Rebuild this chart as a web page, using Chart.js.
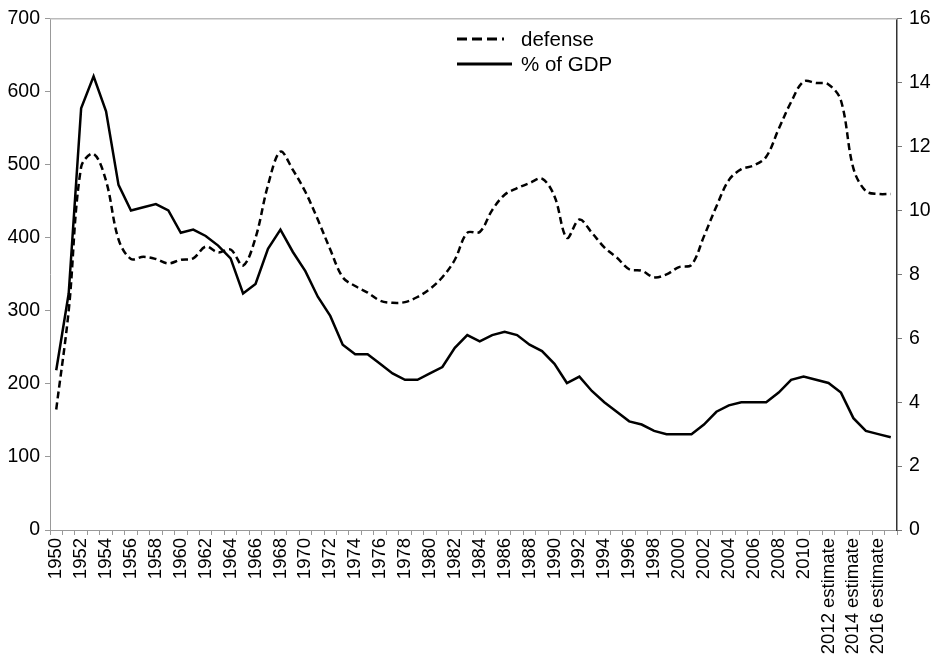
<!DOCTYPE html>
<html><head><meta charset="utf-8">
<script src="https://cdn.jsdelivr.net/npm/chart.js@4.4.1/dist/chart.umd.min.js"></script>
<style>html,body{margin:0;padding:0;background:#fff}#wrap{width:937px;height:660px;position:relative}</style>
</head><body><div id="wrap"><canvas id="c"></canvas></div>
<script>
const categories = ["1950","1951","1952","1953","1954","1955","1956","1957","1958","1959",
"1960","1961","1962","1963","1964","1965","1966","1967","1968","1969",
"1970","1971","1972","1973","1974","1975","1976","1977","1978","1979",
"1980","1981","1982","1983","1984","1985","1986","1987","1988","1989",
"1990","1991","1992","1993","1994","1995","1996","1997","1998","1999",
"2000","2001","2002","2003","2004","2005","2006","2007","2008","2009",
"2010","2011","2012 estimate","2013 estimate","2014 estimate","2015 estimate","2016 estimate","2017 estimate"];
const defense = [165,300,497,515,478,398,371,374,371,365,
370,372,388,380,384,362,400,472,518,493,
463,425,384,346,334,325,314,311,312,319,
330,346,370,407,408,438,459,468,475,481,
457,400,425,407,387,373,357,355,346,350,
360,363,402,443,479,494,499,511,549,586,
614,612,610,588,495,464,460,460];
const gdpShare = [5.0,7.4,13.2,14.2,13.1,10.8,10.0,10.1,10.2,10.0,
9.3,9.4,9.2,8.9,8.5,7.4,7.7,8.8,9.4,8.7,
8.1,7.3,6.7,5.8,5.5,5.5,5.2,4.9,4.7,4.7,
4.9,5.1,5.7,6.1,5.9,6.1,6.2,6.1,5.8,5.6,
5.2,4.6,4.8,4.35,4.0,3.7,3.4,3.3,3.1,3.0,
3.0,3.0,3.3,3.7,3.9,4.0,4.0,4.0,4.3,4.7,
4.8,4.7,4.6,4.3,3.5,3.1,3.0,2.9];
const seriesNames = ["defense","% of GDP"];

const FONT = "'Liberation Sans', Arial, Helvetica, sans-serif";

const topBorder = {
  id: 'topBorder',
  afterDraw(chart) {
    const {ctx, chartArea} = chart;
    ctx.save();
    ctx.strokeStyle = '#bbb';
    ctx.lineWidth = 1.5;
    ctx.beginPath();
    ctx.moveTo(chartArea.left, chartArea.top);
    ctx.lineTo(chartArea.right, chartArea.top);
    ctx.stroke();
    ctx.restore();
  }
};

const lineLegend = {
  id: 'lineLegend',
  afterDraw(chart, args, opts) {
    const {ctx} = chart;
    ctx.save();
    ctx.font = opts.fontSize + 'px ' + FONT;
    ctx.textBaseline = 'middle';
    ctx.fillStyle = '#000';
    chart.data.datasets.forEach((ds, i) => {
      const y = opts.y + i * opts.rowGap;
      ctx.strokeStyle = '#000';
      ctx.lineWidth = 3;
      ctx.setLineDash(ds.borderDash && ds.borderDash.length ? opts.legendDash : []);
      ctx.beginPath();
      ctx.moveTo(opts.x, y);
      ctx.lineTo(opts.x + (i === 0 ? opts.dashLen : opts.solidLen), y);
      ctx.stroke();
      ctx.setLineDash([]);
      ctx.fillText(ds.label, opts.textX, y + 1);
    });
    ctx.restore();
  }
};

new Chart(document.getElementById('c'), {
  type: 'line',
  data: {
    labels: categories,
    datasets: [
      {label: seriesNames[0], data: defense, yAxisID: 'y', borderColor: '#000', borderWidth: 2.5,
       borderDash: [7,4], tension: 0.35, pointRadius: 0, fill: false},
      {label: seriesNames[1], data: gdpShare, yAxisID: 'y1', borderColor: '#000', borderWidth: 2.5,
       tension: 0, pointRadius: 0, fill: false}
    ]
  },
  options: {
    responsive: true,
    maintainAspectRatio: false,
    animation: false,
    devicePixelRatio: 1,
    layout: {padding: {top: 14, left: 0, right: 0, bottom: 0}},
    plugins: {
      legend: {display: false},
      tooltip: {enabled: false},
      lineLegend: {x: 457, y: 39, rowGap: 25, dashLen: 47, solidLen: 55, textX: 521, fontSize: 20.5, legendDash: [10,5]}
    },
    scales: {
      x: {
        type: 'category',
        offset: true,
        grid: {display: true, offset: true, drawOnChartArea: false, drawTicks: true, tickLength: 5, color: '#999'},
        border: {display: true, color: '#999', width: 1},
        ticks: {
          autoSkip: false, maxRotation: 90, minRotation: 90, padding: 3,
          color: '#000', font: {family: FONT, size: 18.5},
          callback: (v, i) => (i % 2 === 0 ? categories[i] : '')
        },
        afterFit: s => { s.height = 130; }
      },
      y: {
        position: 'left', min: 0, max: 700,
        grid: {display: true, drawOnChartArea: false, drawTicks: true, tickLength: 5, color: '#999'},
        border: {display: true, color: '#999', width: 1},
        ticks: {stepSize: 100, padding: 5, color: '#000', font: {family: FONT, size: 19.5}},
        afterFit: s => { s.width = 50; }
      },
      y1: {
        position: 'right', min: 0, max: 16,
        grid: {display: true, drawOnChartArea: false, drawTicks: true, tickLength: 5, color: '#777'},
        border: {display: true, color: '#333', width: 1.5},
        ticks: {stepSize: 2, padding: 7, color: '#000', font: {family: FONT, size: 19.5}},
        afterFit: s => { s.width = 40; }
      }
    }
  },
  plugins: [topBorder, lineLegend]
});
</script>
</body></html>
